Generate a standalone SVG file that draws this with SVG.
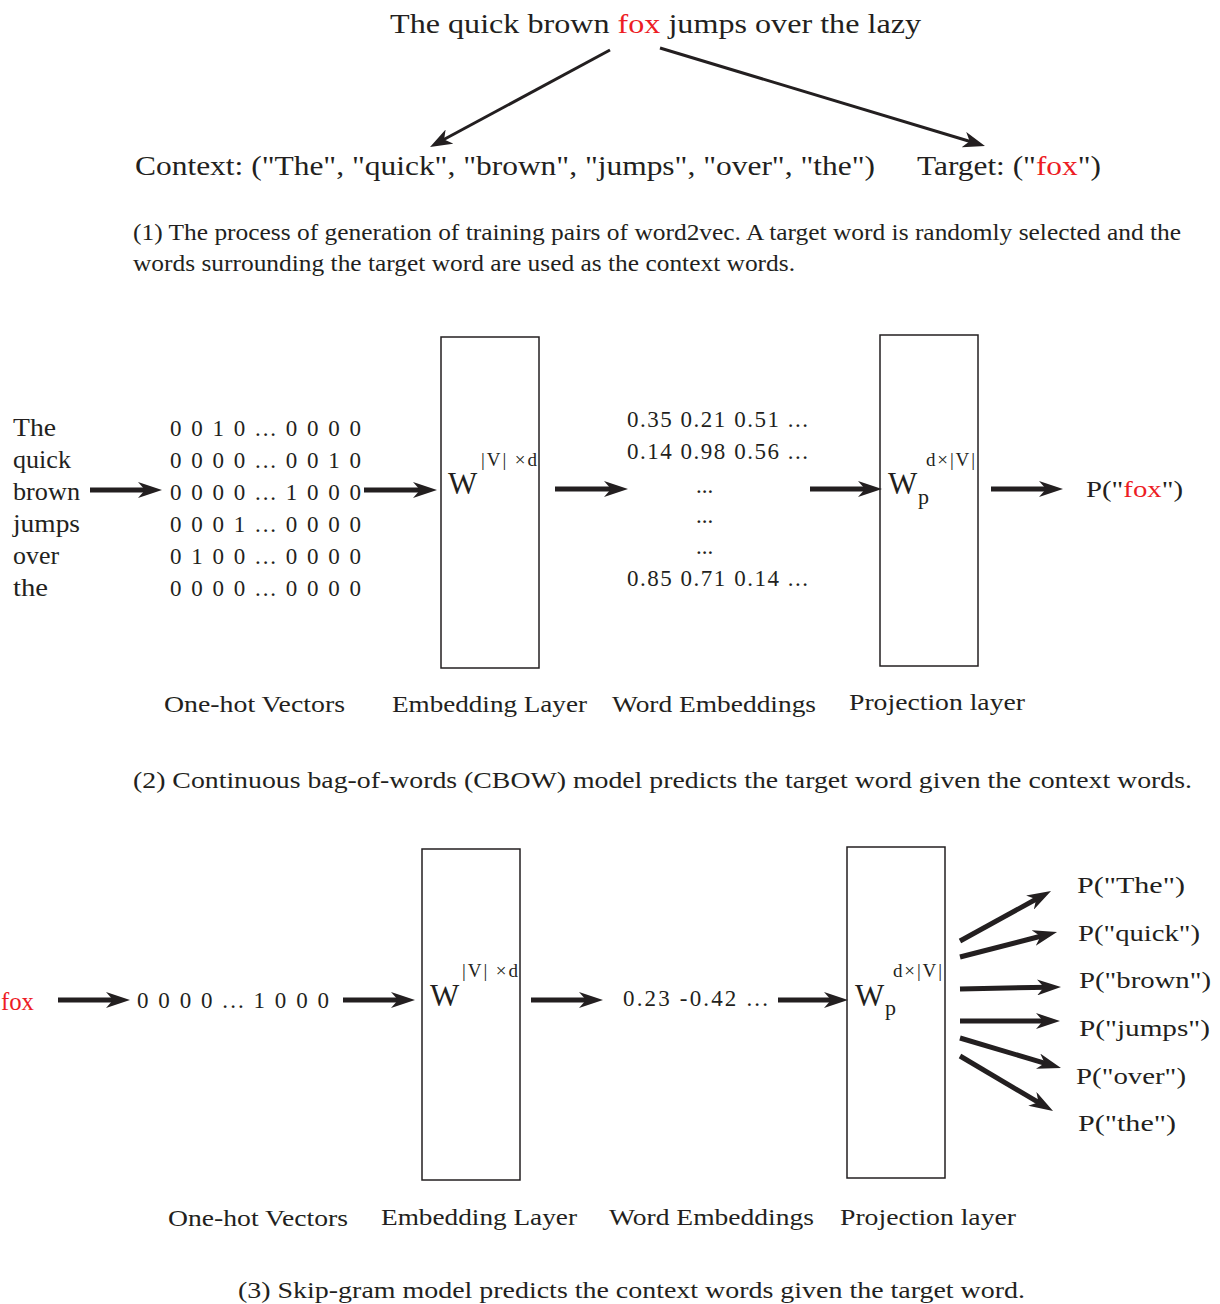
<svg xmlns="http://www.w3.org/2000/svg" width="1220" height="1304" viewBox="0 0 1220 1304">
<style>
text{font-family:"Liberation Serif","DejaVu Serif",serif;fill:#231f20}
.red{fill:#ed1c24}
.t28{font-size:28px}
.t27{font-size:27px}
.t25{font-size:25px}
.t24{font-size:24px}
.t23{font-size:23px}
.W{font-size:31px}
.sup{font-size:19px}
.sub{font-size:22px}
.box{fill:none;stroke:#231f20;stroke-width:1.5}
.thick{stroke:#231f20;stroke-width:5;fill:none;marker-end:url(#ah)}
.thin{stroke:#231f20;stroke-width:3;fill:none;marker-end:url(#ahThin)}
</style>
<defs>
<marker id="ah" markerUnits="userSpaceOnUse" viewBox="0 0 24 16" markerWidth="24" markerHeight="16" refX="12" refY="8" orient="auto">
<path d="M0,0 L24,8 L0,16 L7,8 Z" fill="#231f20"/>
</marker>
<marker id="ahThin" markerUnits="userSpaceOnUse" viewBox="0 0 22 16" markerWidth="22" markerHeight="16" refX="10" refY="8" orient="auto">
<path d="M0,0 L22,8 L0,16 L6,8 Z" fill="#231f20"/>
</marker>
</defs>
<rect width="1220" height="1304" fill="#ffffff"/>

<!-- Part 1 -->
<g id="sentence">
<text class="t28" x="390" y="33" textLength="531" lengthAdjust="spacingAndGlyphs">The quick brown <tspan class="red">fox</tspan> jumps over the lazy</text>
</g>
<g id="context">
<text class="t27" x="135" y="175" textLength="740" lengthAdjust="spacingAndGlyphs">Context: ("The", "quick", "brown", "jumps", "over", "the")</text>
</g>
<g id="target">
<text class="t27" x="917" y="175" textLength="184" lengthAdjust="spacingAndGlyphs">Target: ("<tspan class="red">fox</tspan>")</text>
</g>
<g id="caption1">
<text class="t24" x="133" y="240" textLength="1048" lengthAdjust="spacingAndGlyphs">(1) The process of generation of training pairs of word2vec. A target word is randomly selected and the</text>
<text class="t24" x="133" y="271" textLength="662" lengthAdjust="spacingAndGlyphs">words surrounding the target word are used as the context words.</text>
</g>

<!-- Part 2: CBOW -->
<g id="cbow-words">
<text class="t25" x="13" y="436" textLength="43" lengthAdjust="spacingAndGlyphs">The</text>
<text class="t25" x="13" y="468" textLength="58" lengthAdjust="spacingAndGlyphs">quick</text>
<text class="t25" x="13" y="500" textLength="67" lengthAdjust="spacingAndGlyphs">brown</text>
<text class="t25" x="13" y="532" textLength="67" lengthAdjust="spacingAndGlyphs">jumps</text>
<text class="t25" x="13" y="564" textLength="46" lengthAdjust="spacingAndGlyphs">over</text>
<text class="t25" x="13" y="596" textLength="35" lengthAdjust="spacingAndGlyphs">the</text>
</g>
<g id="cbow-onehot">
<text class="t23" x="170" y="436" textLength="191" lengthAdjust="spacing">0 0 1 0 ... 0 0 0 0</text>
<text class="t23" x="170" y="468" textLength="191" lengthAdjust="spacing">0 0 0 0 ... 0 0 1 0</text>
<text class="t23" x="170" y="500" textLength="191" lengthAdjust="spacing">0 0 0 0 ... 1 0 0 0</text>
<text class="t23" x="170" y="532" textLength="191" lengthAdjust="spacing">0 0 0 1 ... 0 0 0 0</text>
<text class="t23" x="170" y="564" textLength="191" lengthAdjust="spacing">0 1 0 0 ... 0 0 0 0</text>
<text class="t23" x="170" y="596" textLength="191" lengthAdjust="spacing">0 0 0 0 ... 0 0 0 0</text>
</g>
<g id="cbow-embedding-layer">
<rect class="box" x="441" y="337" width="98" height="331"/>
<text class="W" x="448" y="494">W</text>
<text class="sup" x="481" y="466" textLength="56" lengthAdjust="spacing">|V| ×d</text>
</g>
<g id="cbow-embeddings">
<text class="t23" x="627" y="427" textLength="181" lengthAdjust="spacing">0.35 0.21 0.51 ...</text>
<text class="t23" x="627" y="459" textLength="181" lengthAdjust="spacing">0.14 0.98 0.56 ...</text>
<text class="t23" x="696" y="493">...</text>
<text class="t23" x="696" y="523">...</text>
<text class="t23" x="696" y="554">...</text>
<text class="t23" x="627" y="586" textLength="181" lengthAdjust="spacing">0.85 0.71 0.14 ...</text>
</g>
<g id="cbow-projection">
<rect class="box" x="880" y="335" width="98" height="331"/>
<text class="W" x="888" y="494">W</text>
<text class="sub" x="918" y="504">p</text>
<text class="sup" x="926" y="466" textLength="49" lengthAdjust="spacing">d×|V|</text>
</g>
<g id="cbow-output">
<text class="t24" x="1086" y="497" textLength="97" lengthAdjust="spacingAndGlyphs">P("<tspan class="red">fox</tspan>")</text>
</g>
<g id="cbow-labels">
<text class="t23" x="164" y="712" textLength="181" lengthAdjust="spacingAndGlyphs">One-hot Vectors</text>
<text class="t23" x="392" y="712" textLength="195" lengthAdjust="spacingAndGlyphs">Embedding Layer</text>
<text class="t23" x="612" y="712" textLength="204" lengthAdjust="spacingAndGlyphs">Word Embeddings</text>
<text class="t23" x="849" y="710" textLength="176" lengthAdjust="spacingAndGlyphs">Projection layer</text>
</g>
<g id="caption2">
<text class="t23" x="133" y="788" textLength="1059" lengthAdjust="spacingAndGlyphs">(2) Continuous bag-of-words (CBOW) model predicts the target word given the context words.</text>
</g>

<!-- Part 3: Skip-gram -->
<g id="sg-input">
<text class="t25 red" x="1" y="1010" textLength="33" lengthAdjust="spacingAndGlyphs">fox</text>
</g>
<g id="sg-onehot">
<text class="t23" x="137" y="1008" textLength="192" lengthAdjust="spacing">0 0 0 0 ... 1 0 0 0</text>
</g>
<g id="sg-embedding-layer">
<rect class="box" x="422" y="849" width="98" height="331"/>
<text class="W" x="430" y="1006">W</text>
<text class="sup" x="462" y="977" textLength="56" lengthAdjust="spacing">|V| ×d</text>
</g>
<g id="sg-embeddings">
<text class="t23" x="623" y="1006" textLength="145" lengthAdjust="spacing">0.23  -0.42 ...</text>
</g>
<g id="sg-projection">
<rect class="box" x="847" y="847" width="98" height="331"/>
<text class="W" x="855" y="1006">W</text>
<text class="sub" x="885" y="1015">p</text>
<text class="sup" x="893" y="977" textLength="49" lengthAdjust="spacing">d×|V|</text>
</g>
<g id="sg-outputs">
<text class="t24" x="1077" y="893" textLength="108" lengthAdjust="spacingAndGlyphs">P("The")</text>
<text class="t24" x="1078" y="941" textLength="122" lengthAdjust="spacingAndGlyphs">P("quick")</text>
<text class="t24" x="1079" y="988" textLength="132" lengthAdjust="spacingAndGlyphs">P("brown")</text>
<text class="t24" x="1079" y="1036" textLength="131" lengthAdjust="spacingAndGlyphs">P("jumps")</text>
<text class="t24" x="1076" y="1084" textLength="110" lengthAdjust="spacingAndGlyphs">P("over")</text>
<text class="t24" x="1078" y="1131" textLength="98" lengthAdjust="spacingAndGlyphs">P("the")</text>
</g>
<g id="sg-labels">
<text class="t23" x="168" y="1226" textLength="180" lengthAdjust="spacingAndGlyphs">One-hot Vectors</text>
<text class="t23" x="381" y="1225" textLength="196" lengthAdjust="spacingAndGlyphs">Embedding Layer</text>
<text class="t23" x="609" y="1225" textLength="205" lengthAdjust="spacingAndGlyphs">Word Embeddings</text>
<text class="t23" x="840" y="1225" textLength="176" lengthAdjust="spacingAndGlyphs">Projection layer</text>
</g>
<g id="caption3">
<text class="t23" x="238" y="1298" textLength="787" lengthAdjust="spacingAndGlyphs">(3) Skip-gram model predicts the context words given the target word.</text>
</g>

<!-- Connectors -->
<g id="connectors">
<line class="thin" x1="610" y1="50" x2="440.6" y2="141.3"/>
<line class="thin" x1="660" y1="48" x2="973.5" y2="142.5"/>

<line class="thick" x1="90" y1="490" x2="150" y2="490"/>
<line class="thick" x1="364" y1="490" x2="425" y2="490"/>
<line class="thick" x1="555" y1="489" x2="616" y2="489"/>
<line class="thick" x1="810" y1="489" x2="870" y2="489"/>
<line class="thick" x1="991" y1="489" x2="1051" y2="489"/>

<line class="thick" x1="58" y1="1000" x2="118" y2="1000"/>
<line class="thick" x1="343" y1="1000" x2="403" y2="1000"/>
<line class="thick" x1="531" y1="1000" x2="591" y2="1000"/>
<line class="thick" x1="778" y1="1000" x2="836" y2="1000"/>

<line class="thick" x1="960" y1="941" x2="1040.5" y2="896.8"/>
<line class="thick" x1="960" y1="957" x2="1045.4" y2="935"/>
<line class="thick" x1="960" y1="989" x2="1049" y2="987.2"/>
<line class="thick" x1="960" y1="1021" x2="1048" y2="1021"/>
<line class="thick" x1="960" y1="1038" x2="1049.5" y2="1064.6"/>
<line class="thick" x1="960" y1="1056" x2="1042.7" y2="1104.9"/>
</g>
</svg>
